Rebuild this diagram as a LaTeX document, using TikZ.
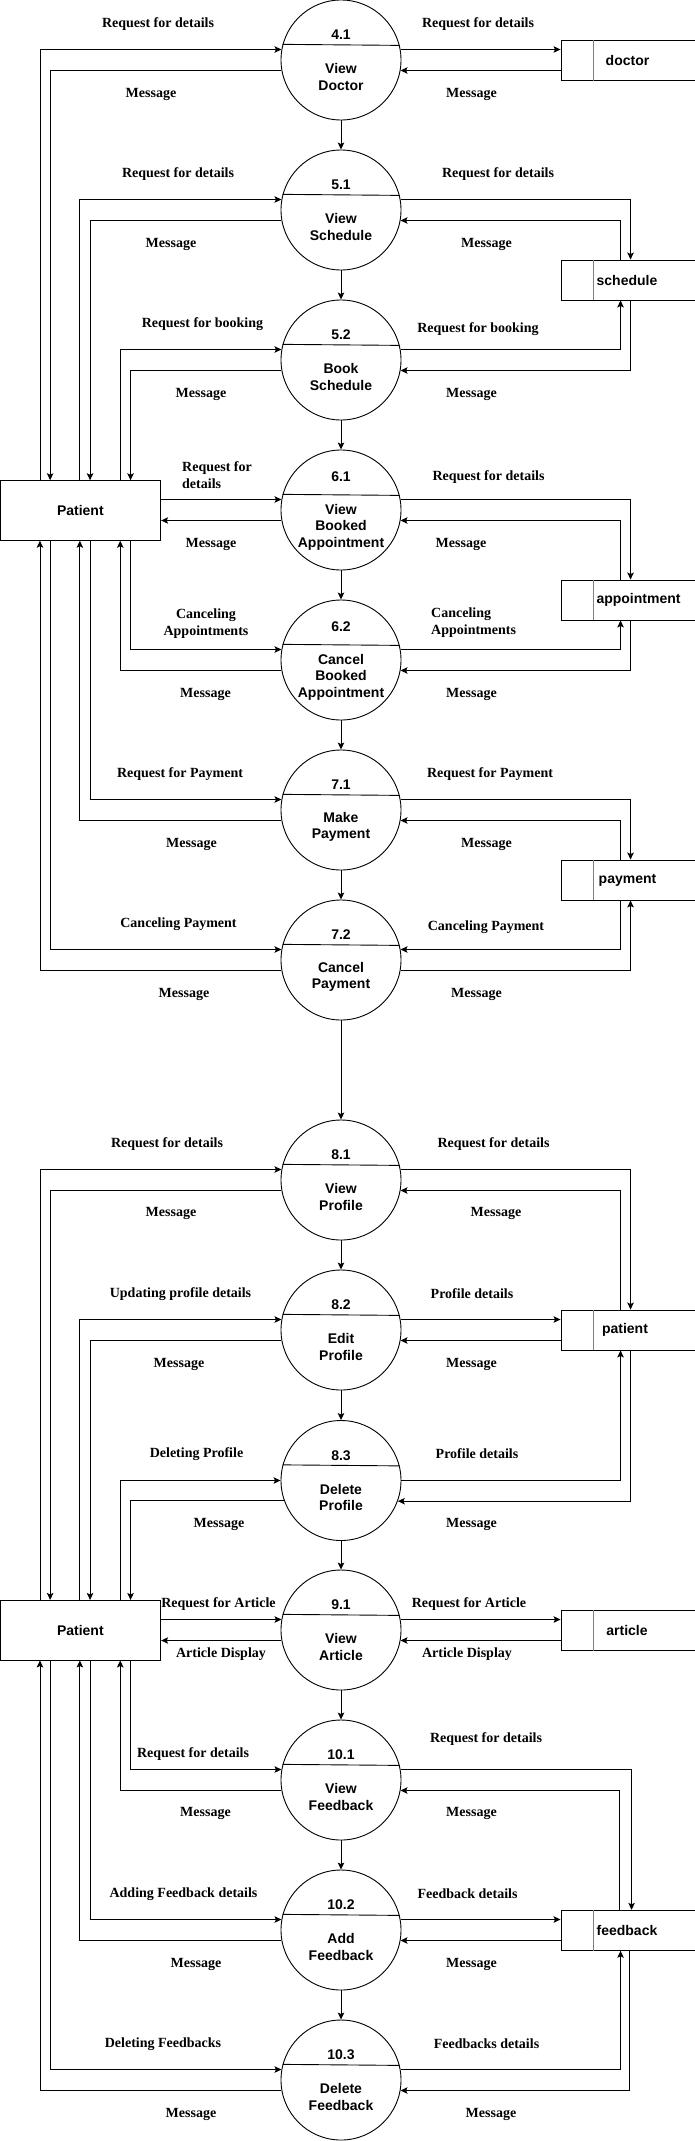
\documentclass[tikz,border=0pt]{standalone}
\usepackage{fontspec}
\setmainfont{Liberation Serif}
\setsansfont{Liberation Sans}
\usetikzlibrary{arrows.meta,calc}
\begin{document}
\begin{tikzpicture}[x=1pt,y=-1pt,
  proc/.style={circle,draw,line width=0.9pt,minimum size=120pt,inner sep=0pt},
  ptxt/.style={font=\sffamily\bfseries\fontsize{14}{16.5}\selectfont,align=center,inner sep=0pt},
  ent/.style={rectangle,draw,line width=0.9pt,minimum width=160.7pt,minimum height=59.6pt,inner sep=0pt,font=\sffamily\bfseries\fontsize{14}{16.5}\selectfont},
  store/.style={rectangle,draw,line width=0.9pt,minimum width=140pt,minimum height=40pt,inner sep=0pt},
  stxt/.style={font=\sffamily\bfseries\fontsize{14}{16.5}\selectfont,inner sep=0pt},
  lbl/.style={font=\bfseries\fontsize{14}{17}\selectfont,inner sep=0pt,align=center},
  flow/.style={line width=0.9pt,-{Stealth[length=7pt,width=6.5pt,inset=1.5pt]}},
  sdiv/.style={line width=0.9pt,draw=gray}
]
\useasboundingbox (0,0) rectangle (695,2141);

% ---------- processes ----------
\node[proc] (c41) at (341,60) {};
\node[proc] (c51) at (341,210) {};
\node[proc] (c52) at (341,360) {};
\node[proc] (c61) at (341,510) {};
\node[proc] (c62) at (341,660) {};
\node[proc] (c71) at (341,810) {};
\node[proc] (c72) at (341,960) {};
\node[proc] (c81) at (341,1180) {};
\node[proc] (c82) at (341,1330) {};
\node[proc] (c83) at (341,1480.5) {};
\node[proc] (c91) at (341,1630) {};
\node[proc] (c101) at (341,1780) {};
\node[proc] (c102) at (341,1930) {};
\node[proc] (c103) at (341,2080) {};

\foreach \c in {c41,c51,c52,c61,c62,c71,c72,c81,c82,c83,c91,c101,c102,c103}{
  \draw[line width=0.9pt] (\c.165.5) -- (\c.14.5);
}

\node[ptxt] (n41) at (341,35) {4.1};
\node[ptxt] (t41) at (341,77) {View\\Doctor};
\node[ptxt] (n51) at (341,185) {5.1};
\node[ptxt] (t51) at (341,227) {View\\Schedule};
\node[ptxt] (n52) at (341,335) {5.2};
\node[ptxt] (t52) at (341,377) {Book\\Schedule};
\node[ptxt] (n61) at (341,477) {6.1};
\node[ptxt] (t61) at (341,527) {View\\Booked\\Appointment};
\node[ptxt] (n62) at (341,627) {6.2};
\node[ptxt] (t62) at (341,677) {Cancel\\Booked\\Appointment};
\node[ptxt] (n71) at (341,785) {7.1};
\node[ptxt] (t71) at (341,827) {Make\\Payment};
\node[ptxt] (n72) at (341,935) {7.2};
\node[ptxt] (t72) at (341,977) {Cancel\\Payment};
\node[ptxt] (n81) at (341,1155) {8.1};
\node[ptxt] (t81) at (341,1197) {View\\Profile};
\node[ptxt] (n82) at (341,1305) {8.2};
\node[ptxt] (t82) at (341,1347) {Edit\\Profile};
\node[ptxt] (n83) at (341,1455.5) {8.3};
\node[ptxt] (t83) at (341,1497.5) {Delete\\Profile};
\node[ptxt] (n91) at (341,1605) {9.1};
\node[ptxt] (t91) at (341,1647) {View\\Article};
\node[ptxt] (n101) at (341,1755) {10.1};
\node[ptxt] (t101) at (341,1797) {View\\Feedback};
\node[ptxt] (n102) at (341,1905) {10.2};
\node[ptxt] (t102) at (341,1947) {Add\\Feedback};
\node[ptxt] (n103) at (341,2055) {10.3};
\node[ptxt] (t103) at (341,2097) {Delete\\Feedback};

% ---------- entities ----------
\node[ent] (P1) at (80.35,510.5) {Patient};
\node[ent] (P2) at (80.35,1630.2) {Patient};

% ---------- data stores ----------
\node[store] (D) at (631,60.5) {};
\node[store] (S) at (631,280) {};
\node[store] (A) at (631,600) {};
\node[store] (Pay) at (631,880) {};
\node[store] (PS) at (631,1330) {};
\node[store] (Ar) at (631,1630.3) {};
\node[store] (F) at (631,1930.3) {};
\foreach \s in {D,S,A,Pay,PS,Ar,F}{
  \draw[sdiv] ([xshift=33.3pt]\s.north west) -- ([xshift=33.3pt]\s.south west);
}
\node[stxt] (sD) at (627.5,60.5) {doctor};
\node[stxt] (sS) at (627,280) {schedule};
\node[stxt] (sA) at (638.5,600) {appointment};
\node[stxt] (sPay) at (627.5,880) {payment};
\node[stxt] (sPS) at (625,1330) {patient};
\node[stxt] (sAr) at (627,1630.3) {article};
\node[stxt] (sF) at (627,1930.3) {feedback};

% ---------- process chain ----------
\draw[flow] (c41.south) -- (c51.north);
\draw[flow] (c51.south) -- (c52.north);
\draw[flow] (c52.south) -- (c61.north);
\draw[flow] (c61.south) -- (c62.north);
\draw[flow] (c62.south) -- (c71.north);
\draw[flow] (c71.south) -- (c72.north);
\draw[flow] (c72.south) -- (c81.north);
\draw[flow] (c81.south) -- (c82.north);
\draw[flow] (c82.south) -- (c83.north);
\draw[flow] (c83.south) -- (c91.north);
\draw[flow] (c91.south) -- (c101.north);
\draw[flow] (c101.south) -- (c102.north);
\draw[flow] (c102.south) -- (c103.north);

% ---------- top patient flows ----------
\draw[flow] ([xshift=40.4pt]P1.north west) |- (c41.170);
\draw[flow] (c41.190) -| ([xshift=50.6pt]P1.north west);
\draw[flow] ([xshift=80.3pt]P1.north west) |- (c51.170);
\draw[flow] (c51.190) -| ([xshift=90.5pt]P1.north west);
\draw[flow] ([xshift=120.7pt]P1.north west) |- (c52.170);
\draw[flow] (c52.190) -| ([xshift=131pt]P1.north west);
\draw[flow] (c61.170 -| P1.east) -- (c61.170);
\draw[flow] (c61.190) -- (c61.190 -| P1.east);
\draw[flow] ([xshift=131pt]P1.south west) |- (c62.170);
\draw[flow] (c62.190) -| ([xshift=120.7pt]P1.south west);
\draw[flow] ([xshift=90.5pt]P1.south west) |- (c71.170);
\draw[flow] (c71.190) -| ([xshift=80.3pt]P1.south west);
\draw[flow] ([xshift=50.6pt]P1.south west) |- (c72.170);
\draw[flow] (c72.190) -| ([xshift=40.4pt]P1.south west);

% ---------- bottom patient flows ----------
\draw[flow] ([xshift=40.4pt]P2.north west) |- (c81.170);
\draw[flow] (c81.190) -| ([xshift=50.6pt]P2.north west);
\draw[flow] ([xshift=80.3pt]P2.north west) |- (c82.170);
\draw[flow] (c82.190) -| ([xshift=90.5pt]P2.north west);
\draw[flow] ([xshift=120.7pt]P2.north west) |- (c83.180);
\draw[flow] (c83.199.5) -| ([xshift=131pt]P2.north west);
\draw[flow] (c91.170 -| P2.east) -- (c91.170);
\draw[flow] (c91.190) -- (c91.190 -| P2.east);
\draw[flow] ([xshift=131pt]P2.south west) |- (c101.170);
\draw[flow] (c101.190) -| ([xshift=120.7pt]P2.south west);
\draw[flow] ([xshift=90.5pt]P2.south west) |- (c102.170);
\draw[flow] (c102.190) -| ([xshift=80.3pt]P2.south west);
\draw[flow] ([xshift=50.6pt]P2.south west) |- (c103.170);
\draw[flow] (c103.190) -| ([xshift=40.4pt]P2.south west);

% ---------- store flows ----------
\draw[flow] (c41.10) -- (c41.10 -| D.west);
\draw[flow] (c41.350 -| D.west) -- (c41.350);
\draw[flow] (c51.10) -| ([xshift=70pt]S.north west);
\draw[flow] ([xshift=60pt]S.north west) |- (c51.350);
\draw[flow] (c52.10) -| ([xshift=60pt]S.south west);
\draw[flow] ([xshift=70pt]S.south west) |- (c52.350);
\draw[flow] (c61.10) -| ([xshift=70pt]A.north west);
\draw[flow] ([xshift=60pt]A.north west) |- (c61.350);
\draw[flow] (c62.10) -| ([xshift=60pt]A.south west);
\draw[flow] ([xshift=70pt]A.south west) |- (c62.350);
\draw[flow] (c71.10) -| ([xshift=70pt]Pay.north west);
\draw[flow] ([xshift=60pt]Pay.north west) |- (c71.350);
\draw[flow] ([xshift=60pt]Pay.south west) |- (c72.10);
\draw[flow] (c72.350) -| ([xshift=70pt]Pay.south west);
\draw[flow] (c81.10) -| ([xshift=70pt]PS.north west);
\draw[flow] ([xshift=60pt]PS.north west) |- (c81.350);
\draw[flow] (c82.10) -- (c82.10 -| PS.west);
\draw[flow] (c82.350 -| PS.west) -- (c82.350);
\draw[flow] (c83.0) -| ([xshift=60pt]PS.south west);
\draw[flow] ([xshift=70pt]PS.south west) |- (c83.340.5);
\draw[flow] (c91.10) -- (c91.10 -| Ar.west);
\draw[flow] (c91.350 -| Ar.west) -- (c91.350);
\draw[flow] (c101.10) -| ([xshift=71pt]F.north west);
\draw[flow] ([xshift=59pt]F.north west) |- (c101.350);
\draw[flow] (c102.10) -- (c102.10 -| F.west);
\draw[flow] (c102.350 -| F.west) -- (c102.350);
\draw[flow] (c103.10) -| ([xshift=60pt]F.south west);
\draw[flow] ([xshift=69pt]F.south west) |- (c103.350);

% ---------- labels ----------
\node[lbl] (l41a) at (158,24) {Request for details};
\node[lbl] (l41b) at (478,24) {Request for details};
\node[lbl] (l41c) at (151,94) {Message};
\node[lbl] (l41d) at (471.5,94) {Message};

\node[lbl] (l51a) at (178,174) {Request for details};
\node[lbl] (l51b) at (498,174) {Request for details};
\node[lbl] (l51c) at (171,244) {Message};
\node[lbl] (l51d) at (486.5,244) {Message};

\node[lbl] (l52a) at (202.5,324) {Request for booking};
\node[lbl] (l52b) at (478,329) {Request for booking};
\node[lbl] (l52c) at (201,394) {Message};
\node[lbl] (l52d) at (471.5,394) {Message};

\node[lbl,align=left,anchor=west] (l61a) at (182,475.5) {Request for\\details};
\node[lbl] (l61b) at (488.5,477) {Request for details};
\node[lbl] (l61c) at (211,544) {Message};
\node[lbl] (l61d) at (461,544) {Message};

\node[lbl] (l62a) at (206,624) {Canceling\\Appointments};
\node[lbl,align=left,anchor=west] (l62b) at (431,623) {Canceling\\Appointments};
\node[lbl] (l62c) at (205.5,694) {Message};
\node[lbl] (l62d) at (471.5,694) {Message};

\node[lbl] (l71a) at (180,774) {Request for Payment};
\node[lbl] (l71b) at (490,774) {Request for Payment};
\node[lbl] (l71c) at (191.5,844) {Message};
\node[lbl] (l71d) at (486.5,844) {Message};

\node[lbl] (l72a) at (178.5,924) {Canceling Payment};
\node[lbl] (l72b) at (486,927) {Canceling Payment};
\node[lbl] (l72c) at (184,994) {Message};
\node[lbl] (l72d) at (476.5,994) {Message};

\node[lbl] (l81a) at (167,1144) {Request for details};
\node[lbl] (l81b) at (493.5,1144) {Request for details};
\node[lbl] (l81c) at (171,1213) {Message};
\node[lbl] (l81d) at (496,1213) {Message};

\node[lbl] (l82a) at (180.5,1294) {Updating profile details};
\node[lbl] (l82b) at (472,1294) {Profile details};
\node[lbl] (l82c) at (179,1364) {Message};
\node[lbl] (l82d) at (471.5,1364) {Message};

\node[lbl] (l83a) at (196.5,1454) {Deleting Profile};
\node[lbl] (l83b) at (477,1454) {Profile details};
\node[lbl] (l83c) at (219,1524) {Message};
\node[lbl] (l83d) at (471.5,1524) {Message};

\node[lbl] (l91a) at (218.5,1604) {Request for Article};
\node[lbl] (l91b) at (469,1604) {Request for Article};
\node[lbl] (l91c) at (221,1654) {Article Display};
\node[lbl] (l91d) at (467,1654) {Article Display};

\node[lbl] (l101a) at (193,1754) {Request for details};
\node[lbl] (l101b) at (486,1739) {Request for details};
\node[lbl] (l101c) at (205.5,1813) {Message};
\node[lbl] (l101d) at (471.5,1813) {Message};

\node[lbl] (l102a) at (183.5,1894) {Adding Feedback details};
\node[lbl] (l102b) at (467.5,1894) {Feedback details};
\node[lbl] (l102c) at (196,1964) {Message};
\node[lbl] (l102d) at (471.5,1964) {Message};

\node[lbl] (l103a) at (163,2044) {Deleting Feedbacks};
\node[lbl] (l103b) at (486.5,2044) {Feedbacks details};
\node[lbl] (l103c) at (191,2114) {Message};
\node[lbl] (l103d) at (491,2114) {Message};
\end{tikzpicture}
\end{document}
